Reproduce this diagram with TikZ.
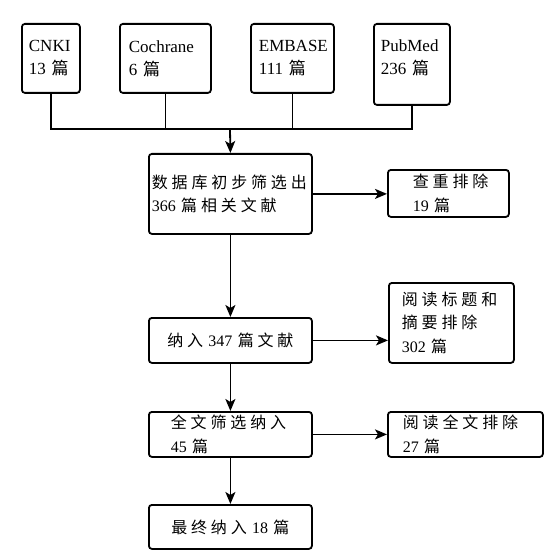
\documentclass[tikz,border=0pt]{standalone}
\usepackage{fontspec}
\setmainfont{Liberation Serif}
\newfontfamily\latinfont{Liberation Serif}
\newfontfamily\cjkfont{Noto Sans CJK SC}[LetterSpace=24]
\newcommand{\zhtext}[1]{{\cjkfont #1}}
\usetikzlibrary{arrows.meta}

\begin{document}
\begin{tikzpicture}[x=1pt,y=-1pt]
\tikzstyle{dbbox} = [draw, rounded corners=3pt, line width=1.8pt, anchor=north west, align=left, inner ysep=0pt, minimum height=69pt, font=\latinfont\fontsize{17pt}{23pt}\selectfont]
\tikzstyle{stepbox} = [draw, rounded corners=3pt, line width=1.8pt, anchor=north west, inner ysep=0pt, font=\latinfont\fontsize{16pt}{23.5pt}\selectfont]
\tikzstyle{flow} = [line width=1.8pt, -{Stealth[length=12pt,width=10pt,inset=3pt]}]
\tikzstyle{bus} = [line width=1.8pt]
\useasboundingbox (0,0) rectangle (552,556);

% databases
\node[dbbox, inner xsep=7pt, text width=44pt] (cnki) at (21,23) {CNKI\\13 \zhtext{篇}};
\node[dbbox, inner xsep=9pt, text width=73pt] (cochrane) at (119,23) {Cochrane\\6 \zhtext{篇}};
\node[dbbox, inner xsep=8pt, text width=67pt] (embase) at (250,23) {EMBASE\\111 \zhtext{篇}};
\node[dbbox, inner xsep=7pt, text width=62pt, minimum height=81pt] (pubmed) at (373,23)
  {PubMed\\236 \zhtext{篇}\\[-9pt]\mbox{}};

\coordinate (hub) at (230,129);
\draw[bus] (cnki.south) |- (hub);
\draw[bus] (cochrane.south) |- (hub);
\draw[bus] (embase.south) |- (hub);
\draw[bus] (pubmed.south) |- (hub);

% screening steps
\node[stepbox, align=left, inner xsep=3pt, text width=157pt, minimum height=80pt] (screen) at (148,153)
  {\zhtext{数据库初步筛选出}\\366 \zhtext{篇相关文献}};
\node[stepbox, align=left, inner xsep=5pt, text width=111pt, minimum height=47pt] (dup) at (387,169)
  {\hspace*{20pt}\zhtext{查重排除}\\\hspace*{20pt}19 \zhtext{篇}};
\node[stepbox, align=center, inner xsep=5pt, text width=153pt, minimum height=45pt] (incl) at (148,317)
  {\zhtext{纳入} 347 \zhtext{篇文献}};
\node[stepbox, align=left, inner xsep=13pt, text width=99pt, minimum height=80pt] (title) at (388,282)
  {\zhtext{阅读标题和}\\\zhtext{摘要排除}\\302 \zhtext{篇}};
\node[stepbox, align=left, inner xsep=22pt, text width=119pt, minimum height=45pt] (full) at (148,411)
  {\zhtext{全文筛选纳入}\\45 \zhtext{篇}};
\node[stepbox, align=left, inner xsep=15pt, text width=125pt, minimum height=45pt] (fullx) at (387,411)
  {\zhtext{阅读全文排除}\\27 \zhtext{篇}};
\node[stepbox, align=center, inner xsep=5pt, text width=153pt, minimum height=44pt] (final) at (148,504)
  {\zhtext{最终纳入} 18 \zhtext{篇}};

\draw[flow] (hub) -- (screen.north);
\draw[flow] (screen.south) -- (incl.north);
\draw[flow] (incl.south) -- (full.north);
\draw[flow] (full.south) -- (final.north);
\draw[flow] (screen.east) -- (screen.east -| dup.west);
\draw[flow] (incl.east) -- (incl.east -| title.west);
\draw[flow] (full.east) -- (full.east -| fullx.west);
\end{tikzpicture}
\end{document}
